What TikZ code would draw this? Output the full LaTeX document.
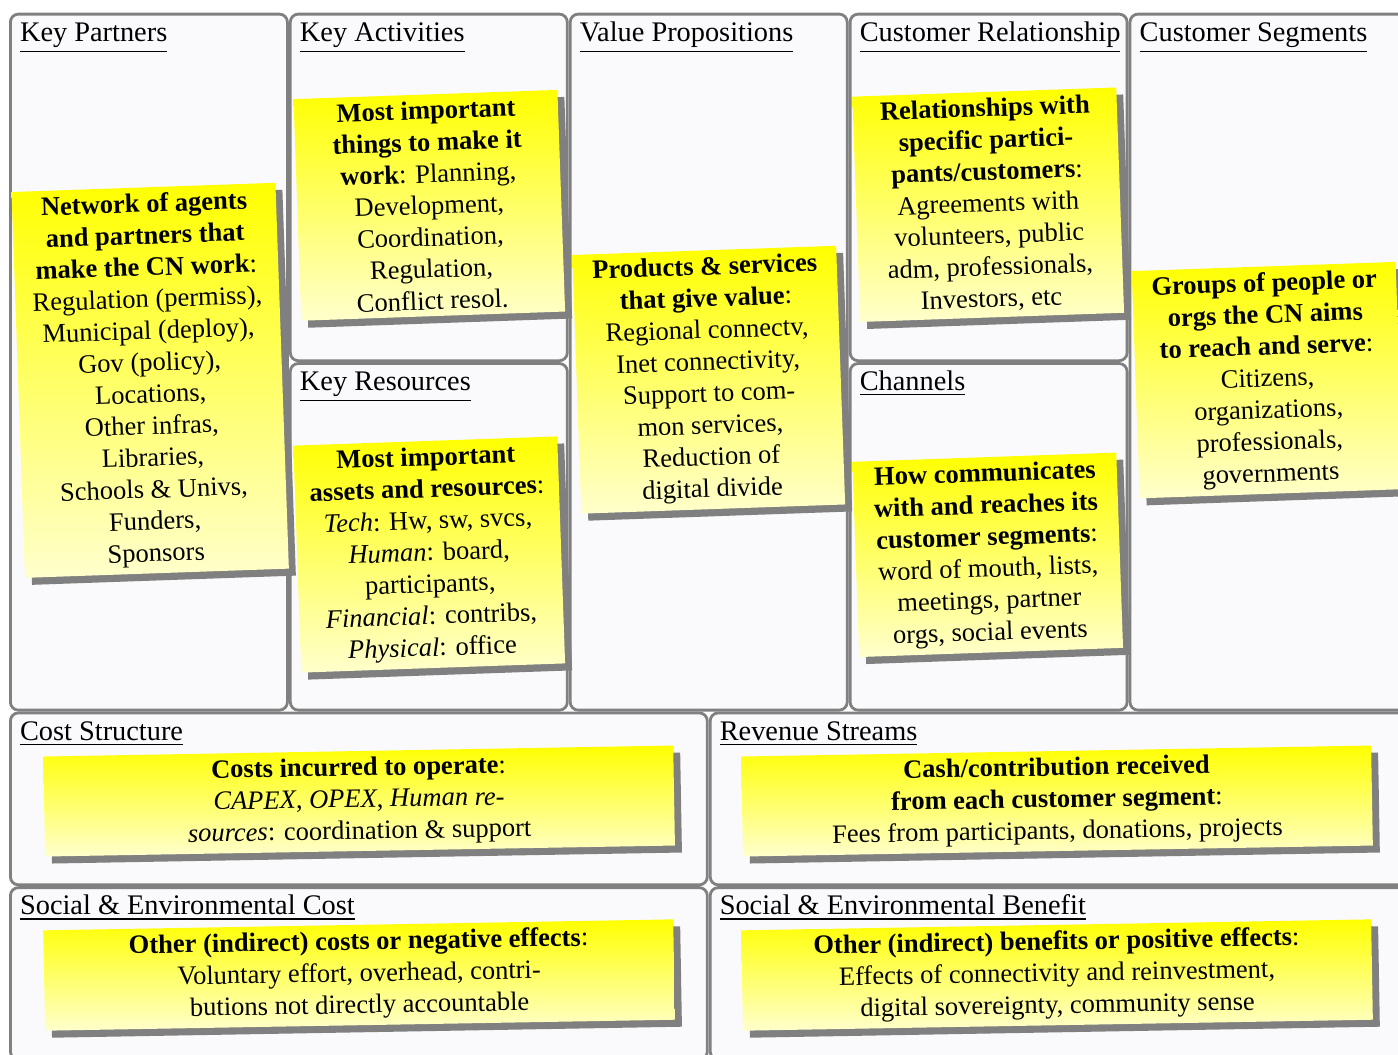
\documentclass[tikz,border=0pt]{standalone}
\usepackage{fontspec}
\setmainfont{Liberation Serif}
\usetikzlibrary{shadows}

\definecolor{cellbg}{RGB}{250,250,253}
\newcommand*{\px}{0.35273pt}

\tikzset{
  cell/.style={draw=gray, line width=2.8*\px, rounded corners=8*\px, fill=cellbg,
    anchor=north west, inner sep=0pt, outer sep=0pt, minimum width=277*\px},
  boxtitle/.style={anchor=base west, inner sep=0pt, font=\fontsize{10}{12}\selectfont},
  note/.style={top color=yellow, bottom color=yellow!20!white, align=center,
    minimum width=264*\px, inner xsep=2pt, inner ysep=2.2pt,
    font=\fontsize{9.35}{11.2}\selectfont, rotate=2,
    drop shadow={shadow xshift=7*\px, shadow yshift=-7*\px, fill=gray, opacity=1}},
  widenote/.style={note, minimum width=630*\px, rotate=-1}
}

\begin{document}
\begin{tikzpicture}[x=\px, y=-\px]
  \useasboundingbox (0,0) rectangle (1398,1054);

  % Canvas cells - top part
  \node[cell, minimum height=696*\px] (kp) at (10.4, 14.1) {};
  \node[cell, minimum height=346.6*\px] (ka) at (290.3, 14.1) {};
  \node[cell, minimum height=346.6*\px] (kr) at (290.3, 363.5) {};
  \node[cell, minimum height=696*\px] (vp) at (570.2, 14.1) {};
  \node[cell, minimum height=346.6*\px] (cr) at (850.1, 14.1) {};
  \node[cell, minimum height=346.6*\px] (ch) at (850.1, 363.5) {};
  \node[cell, minimum height=696*\px] (cs) at (1130.0, 14.1) {};

  % Canvas cells - bottom rows
  \node[cell, minimum width=696.9*\px, minimum height=171.9*\px] (cost) at (10.4, 712.9) {};
  \node[cell, minimum width=696.9*\px, minimum height=171.9*\px] (rev) at (710.2, 712.9) {};
  \node[cell, minimum width=696.9*\px, minimum height=171.9*\px] (sec) at (10.4, 887.6) {};
  \node[cell, minimum width=696.9*\px, minimum height=171.9*\px] (seb) at (710.2, 887.6) {};

  % Titles
  \node[boxtitle] (kpt) at (19.5, 41.2) {\underline{Key Partners}};
  \node[boxtitle] (kat) at (299.4, 41.2) {\underline{Key Activities}};
  \node[boxtitle] (krt) at (299.4, 390.4) {\underline{Key Resources}};
  \node[boxtitle] (vpt) at (579.3, 41.2) {\underline{Value Propositions}};
  \node[boxtitle] (crt) at (859.2, 41.2) {\underline{Customer Relationship}};
  \node[boxtitle] (cht) at (859.2, 390.4) {\underline{Channels}};
  \node[boxtitle] (cst) at (1139.1, 41.2) {\underline{Customer Segments}};
  \node[boxtitle] (costt) at (19.5, 740) {\underline{Cost Structure}};
  \node[boxtitle] (revt) at (719.2, 740) {\underline{Revenue Streams}};
  \node[boxtitle] (sect) at (19.5, 914.7) {\underline{Social \& Environmental Cost}};
  \node[boxtitle] (sebt) at (719.2, 914.7) {\underline{Social \& Environmental Benefit}};

  % Sticky notes - top part
  \node[note] (kpn) at (150.2, 380.3) {\textbf{Network of agents}\\\textbf{and partners that}\\
    \textbf{make the CN work}:\\Regulation (permiss),\\Municipal (deploy),\\Gov (policy),\\
    Locations,\\Other infras,\\Libraries,\\Schools \& Univs,\\Funders,\\Sponsors};
  \node[note] (kan) at (429.3, 205.3) {\textbf{Most important}\\\textbf{things to make it}\\
    \textbf{work}: Planning,\\Development,\\Coordination,\\Regulation,\\Conflict resol.};
  \node[note] (krn) at (429.2, 554.5) {\textbf{Most important}\\\textbf{assets and resources}:\\
    \textit{Tech}: Hw, sw, svcs,\\\textit{Human}: board,\\participants,\\
    \textit{Financial}: contribs,\\\textit{Physical}: office};
  \node[note] (vpn) at (708.7, 379.7) {\textbf{Products \& services}\\\textbf{that give value}:\\
    Regional connectv,\\Inet connectivity,\\Support to com-\\mon services,\\
    Reduction of\\digital divide};
  \node[note] (crn) at (988.2, 204.7) {\textbf{Relationships with}\\\textbf{specific partici-}\\
    \textbf{pants/customers}:\\Agreements with\\volunteers, public\\adm, professionals,\\
    Investors, etc};
  \node[note] (chn) at (987.7, 554.8) {\textbf{How communicates}\\\textbf{with and reaches its}\\
    \textbf{customer segments}:\\word of mouth, lists,\\meetings, partner\\orgs, social events};
  \node[note] (csn) at (1267.6, 380.1) {\textbf{Groups of people or}\\\textbf{orgs the CN aims}\\
    \textbf{to reach and serve}:\\Citizens,\\organizations,\\professionals,\\governments};

  % Sticky notes - bottom rows
  \node[widenote] (costn) at (359.1, 801) {\textbf{Costs incurred to operate}:\\
    \textit{CAPEX}, \textit{OPEX}, \textit{Human re-}\\\textit{sources}: coordination \& support};
  \node[widenote] (revn) at (1057, 801) {\textbf{Cash/contribution received}\\
    \textbf{from each customer segment}:\\Fees from participants, donations, projects};
  \node[widenote] (secn) at (359.1, 975) {\textbf{Other (indirect) costs or negative effects}:\\
    Voluntary effort, overhead, contri-\\butions not directly accountable};
  \node[widenote] (sebn) at (1057, 975) {\textbf{Other (indirect) benefits or positive effects}:\\
    Effects of connectivity and reinvestment,\\digital sovereignty, community sense};
\end{tikzpicture}
\end{document}
